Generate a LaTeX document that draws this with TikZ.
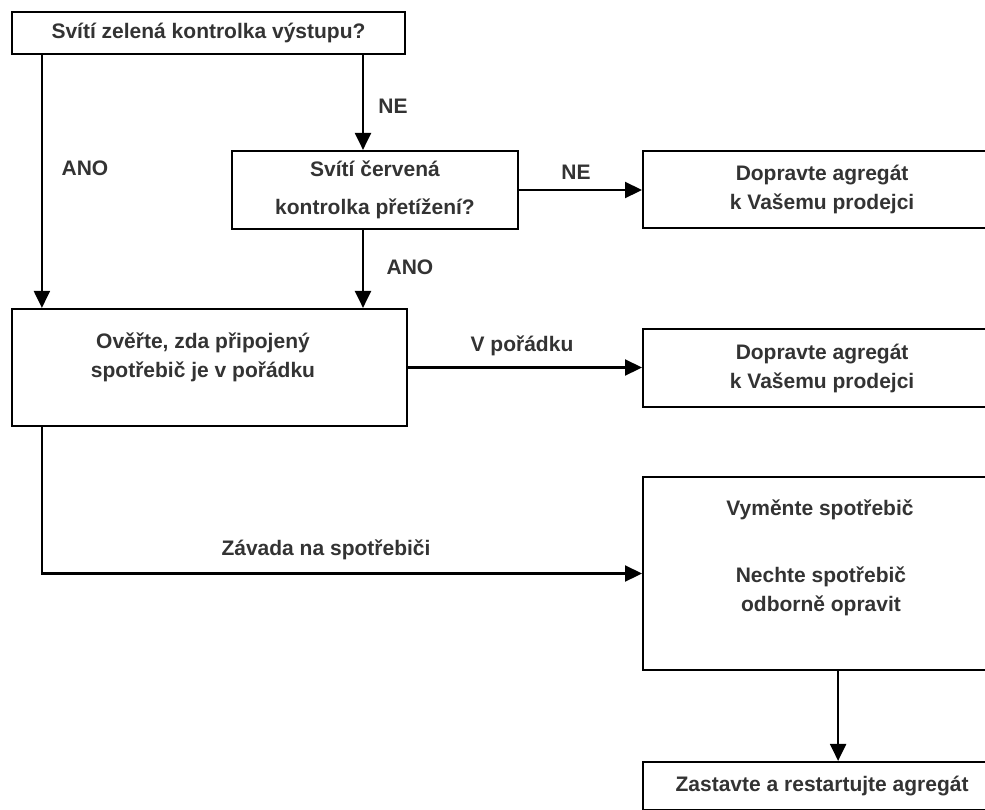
\documentclass[tikz,border=0pt]{standalone}
\usepackage{fontspec}
\setmainfont{Liberation Sans}
\usetikzlibrary{positioning,arrows.meta}
\tikzset{
  box/.style={draw,line width=2.2pt,inner sep=0pt,align=center,text=black!80},
  rbox/.style={box,minimum width=358pt,anchor=west},
  lbl/.style={text=black!80,inner sep=0pt,align=center},
  flow/.style={line width=2.2pt,-{Triangle[length=17pt,width=16pt]}},
}
\begin{document}
\begin{tikzpicture}[x=1pt,y=-1pt,font=\bfseries\fontsize{21}{29}\selectfont]
\useasboundingbox (0,0) rectangle (985,809);
\clip (0,0) rectangle (985,809);
%% boxes
\node[box,minimum width=393pt,minimum height=42pt] (zel) at (208.5,33) {Svítí zelená kontrolka výstupu?};
\node[box,minimum width=286pt,minimum height=78pt] (cer) at (375,190) {Svítí červená\\[9pt]kontrolka přetížení?};
\node[rbox,minimum height=77pt] (pro1) at (642,189.5) {Dopravte agregát\\k Vašemu prodejci};
\node[box,minimum width=395pt,minimum height=117pt] (over) at (209.5,367.5) {};
\node[lbl] (overtext) at (203,357) {Ověřte, zda připojený\\spotřebič je v pořádku};
\node[rbox,minimum height=78pt] (pro2) at (642,368) {Dopravte agregát\\k Vašemu prodejci};
\node[rbox,minimum height=193pt] (vym) at (642,573.5) {};
\node[lbl] (vymtext1) at (820,510) {Vyměnte spotřebič};
\node[lbl] (vymtext2) at (821,591) {Nechte spotřebič\\odborně opravit};
\node[rbox,minimum height=48pt] (zast) at (642,786) {Zastavte a restartujte agregát};
%% connectors
\draw[flow] ([xshift=31pt]zel.south west) -- ([xshift=31pt]over.north west);
\draw[flow] ([xshift=-12pt]cer.north |- zel.south) -- ([xshift=-12pt]cer.north);
\draw[flow] (cer.east) -- (cer.east -| pro1.west);
\draw[flow] ([xshift=-12pt]cer.south) -- ([xshift=-12pt]cer.south |- over.north);
\draw[flow] (over.east) -- (over.east -| pro2.west);
\draw[flow] ([xshift=31pt]over.south west) |- (vym.west);
\draw[flow] ([xshift=16pt]vym.south) -- ([xshift=16pt]vym.south |- zast.north);
%% labels
\node[lbl] (ne1) at (393,106) {NE};
\node[lbl] (ano1) at (85,168) {ANO};
\node[lbl] (ne2) at (576,172) {NE};
\node[lbl] (ano2) at (410,267) {ANO};
\node[lbl] (ok) at (522,346) {V pořádku};
\node[lbl] (vada) at (326,550) {Závada na spotřebiči};
\end{tikzpicture}
\end{document}
